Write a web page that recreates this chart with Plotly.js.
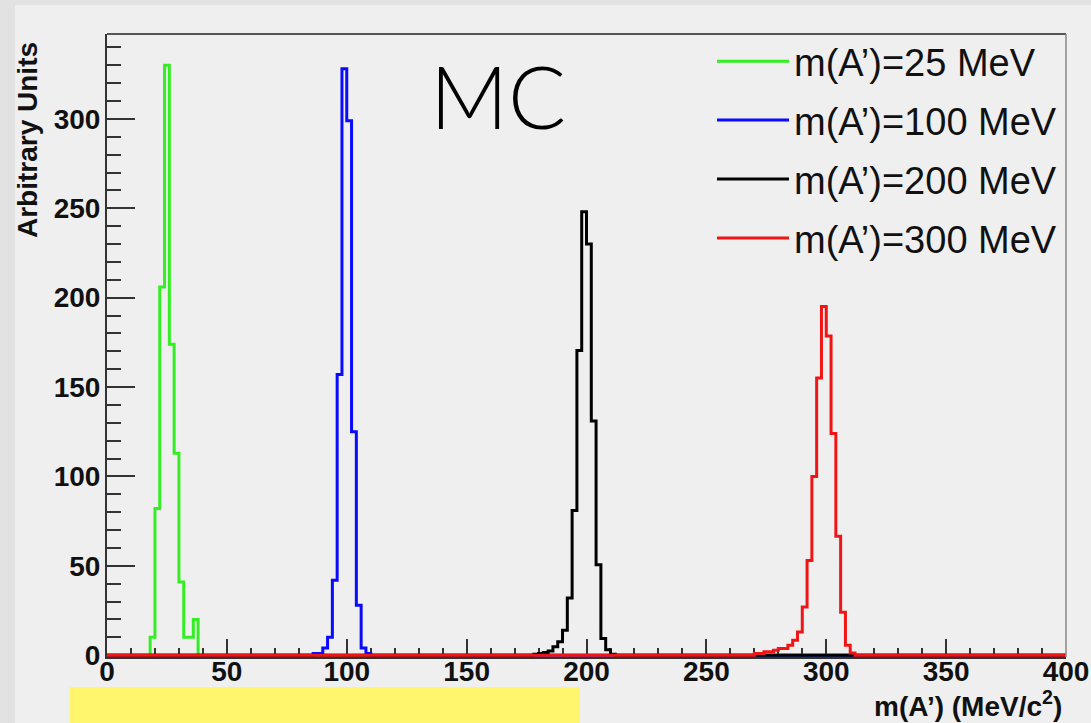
<!DOCTYPE html>
<html>
<head>
<meta charset="utf-8">
<script src="https://cdn.plot.ly/plotly-3.0.1.min.js"></script>
<style>
  html, body { margin: 0; padding: 0; background: #e4e4e4; }
  #chart { width: 1091px; height: 723px; }
</style>
</head>
<body>
<div id="chart"></div>
<script>
// ---- data (bin lower edges in MeV, bin width 2 MeV) ----
const seriesNames = ["m(A’)=25 MeV", "m(A’)=100 MeV", "m(A’)=200 MeV", "m(A’)=300 MeV"];

const greenBins = [18, 20, 22, 24, 26, 28, 30, 32, 34, 36];
const greenVals = [10, 82, 206, 330, 174, 113, 41, 10, 10, 20];

const blueBins = [86, 88, 90, 92, 94, 96, 98, 100, 102, 104, 106, 108];
const blueVals = [1, 1, 4, 10, 42, 157, 328, 299, 125, 28, 4, 1];

const blackBins = [178, 180, 182, 184, 186, 188, 190, 192, 194, 196, 198, 200, 202, 204, 206, 208, 210];
const blackVals = [0.5, 1, 1.5, 2.4, 4.7, 7.5, 14, 32, 81, 170.5, 248, 230, 131, 50.6, 9.4, 3, 0.5];

const redBins = [270, 272, 274, 276, 278, 280, 282, 284, 286, 288, 290, 292, 294, 296, 298, 300, 302, 304, 306, 308, 310];
const redVals = [1, 1, 1.9, 1.9, 2.8, 3.7, 3.7, 5.6, 8.4, 13, 27, 53, 100, 155, 195, 178.5, 124, 66.6, 24, 5.6, 1.3];

const xTickVals = [0, 50, 100, 150, 200, 250, 300, 350, 400];
const yTickVals = [0, 50, 100, 150, 200, 250, 300];
const binWidth = 2;
const xMin = 0, xMax = 400;

// ---- helpers ----
const W = 1091, H = 723;
const L = 107, R = 1066, T = 34, B = 657;
const px = p => (p - L) / (R - L);
const py = p => (B - p) / (B - T);

function histTrace(bins, vals, name, color) {
  const x = [xMin].concat(bins, [bins[bins.length - 1] + binWidth, xMax]);
  const y = [0].concat(vals, [0, 0]);
  return {
    type: 'scatter', mode: 'lines', x: x, y: y, name: name,
    line: { shape: 'hv', color: color, width: 3 },
    legendgroup: name, hoverinfo: 'x+y'
  };
}

const traces = [
  histTrace(greenBins, greenVals, seriesNames[0], '#33ee22'),
  histTrace(blueBins, blueVals, seriesNames[1], '#0a0aff'),
  histTrace(blackBins, blackVals, seriesNames[2], '#000000'),
  histTrace(redBins, redVals, seriesNames[3], '#f01515')
];

const tickFont = { family: 'Liberation Sans, Arial, sans-serif', size: 28, color: '#111', weight: 'bold' };

const layout = {
  width: W, height: H,
  margin: { l: L, r: W - R, t: T, b: H - B, pad: 0 },
  paper_bgcolor: '#efefef',
  plot_bgcolor: '#efefef',
  showlegend: true,
  legend: {
    x: px(712), y: py(30), xanchor: 'left', yanchor: 'top',
    bgcolor: 'rgba(0,0,0,0)', borderwidth: 0,
    font: { family: 'Liberation Sans, Arial, sans-serif', size: 38, color: '#111' },
    itemwidth: 72, tracegroupgap: 6.5, traceorder: 'grouped'
  },
  xaxis: {
    range: [xMin, xMax], tickvals: xTickVals, ticktext: xTickVals.map(String),
    ticks: 'inside', ticklen: 18, tickwidth: 2, tickcolor: '#333',
    minor: { dtick: 10, tick0: 0, ticks: 'inside', ticklen: 9, tickwidth: 2, tickcolor: '#333' },
    showline: true, linecolor: '#333', linewidth: 2, mirror: false,
    showgrid: false, zeroline: false, layer: 'below traces',
    tickfont: tickFont, ticklabelstandoff: -12
  },
  yaxis: {
    range: [-1, 347.5], tickvals: yTickVals, ticktext: yTickVals.map(String),
    ticks: 'inside', ticklen: 28, tickwidth: 2, tickcolor: '#333',
    minor: { dtick: 10, tick0: 0, ticks: 'inside', ticklen: 14, tickwidth: 2, tickcolor: '#333' },
    showline: true, linecolor: '#333', linewidth: 2, mirror: false,
    showgrid: false, zeroline: false, layer: 'below traces',
    tickfont: tickFont, ticklabelstandoff: -1
  },
  shapes: [
    // outer darker strips of the slide
    { type: 'rect', xref: 'paper', yref: 'paper', x0: px(0), x1: px(15), y0: py(H), y1: py(0),
      fillcolor: '#e2e2e2', line: { width: 0 }, layer: 'below' },
    { type: 'rect', xref: 'paper', yref: 'paper', x0: px(0), x1: px(W), y0: py(5), y1: py(0),
      fillcolor: '#e2e2e2', line: { width: 0 }, layer: 'below' },
    // frame top and right
    { type: 'line', xref: 'paper', yref: 'paper', x0: 0, x1: 1, y0: 1, y1: 1,
      line: { color: '#555', width: 2 } },
    { type: 'line', xref: 'paper', yref: 'paper', x0: 1, x1: 1, y0: 0, y1: 1,
      line: { color: '#888', width: 1.5 } },
    // yellow caption box
    { type: 'rect', xref: 'paper', yref: 'paper', x0: px(70), x1: px(580), y0: py(H + 2), y1: py(687),
      fillcolor: '#fff66e', line: { width: 0 }, layer: 'above' }
  ],
  annotations: [
    { text: 'MC', xref: 'paper', yref: 'paper', x: px(498), y: py(95),
      xanchor: 'center', yanchor: 'middle', showarrow: false,
      font: { family: 'Lato, Open Sans, sans-serif', size: 86, color: '#000', weight: 300 } },
    { text: 'Arbitrary Units', xref: 'paper', yref: 'paper', x: px(28), y: py(140),
      xanchor: 'center', yanchor: 'middle', textangle: -90, showarrow: false,
      font: { family: 'Liberation Sans, Arial, sans-serif', size: 28, color: '#111', weight: 'bold' } },
    { text: 'm(A’) (MeV/c<sup>2</sup>)', xref: 'paper', yref: 'paper', x: px(1064), y: py(704),
      xanchor: 'right', yanchor: 'middle', showarrow: false,
      font: { family: 'Liberation Sans, Arial, sans-serif', size: 28, color: '#111', weight: 'bold' } }
  ]
};

Plotly.newPlot('chart', traces, layout, { displayModeBar: false, staticPlot: true });
</script>
</body>
</html>
